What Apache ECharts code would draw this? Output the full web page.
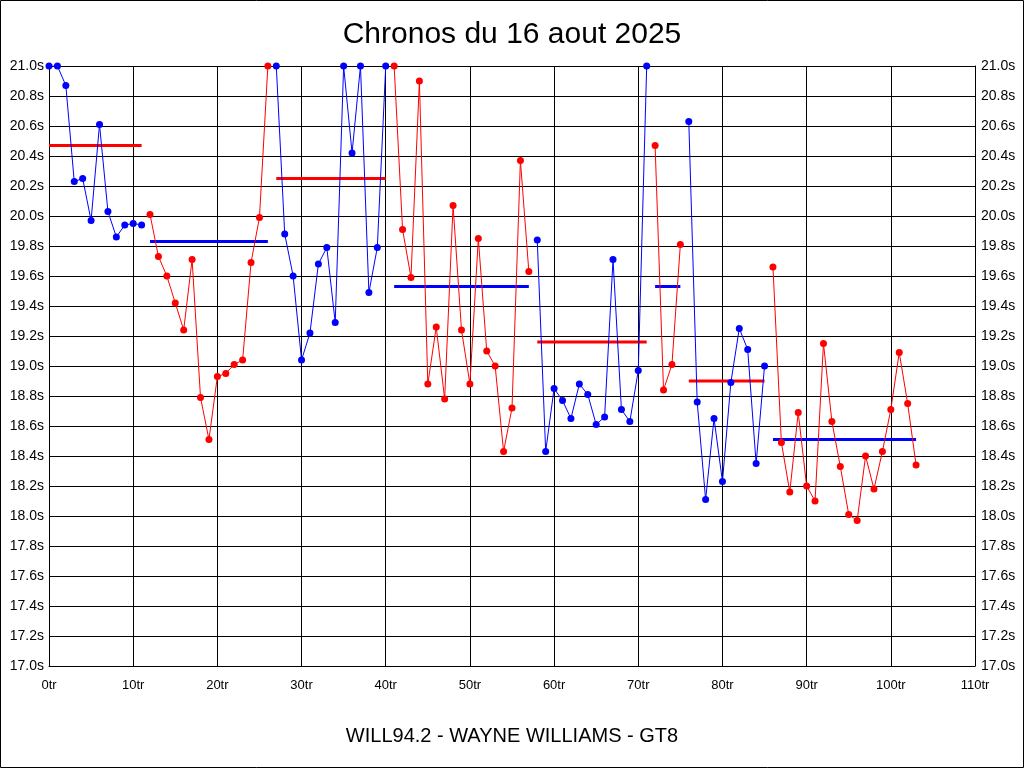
<!DOCTYPE html>
<html>
<head>
<meta charset="utf-8">
<script src="https://cdn.jsdelivr.net/npm/echarts@6/dist/echarts.min.js"></script>
<style>
html,body{margin:0;padding:0;background:#fff;}
#chart{width:1024px;height:768px;}
</style>
</head>
<body>
<div id="chart"></div>
<script>
// Lap times (seconds), lap 0..103 ; values at 21.0 are clipped at the top of the chart
var lapTimes = [
  21.0, 21.0, 20.87, 20.23, 20.25, 19.97, 20.61, 20.03, 19.86, 19.94, 19.95, 19.94,
  20.01, 19.73, 19.60, 19.42, 19.24, 19.71, 18.79, 18.51, 18.93, 18.95, 19.01, 19.04, 19.69, 19.99, 21.0,
  21.0, 19.88, 19.60, 19.04, 19.22, 19.68, 19.79, 19.29, 21.0, 20.42, 21.0, 19.49, 19.79, 21.0,
  21.0, 19.91, 19.59, 20.90, 18.88, 19.26, 18.78, 20.07, 19.24, 18.88, 19.85, 19.10, 19.00, 18.43, 18.72, 20.37, 19.63,
  19.84, 18.43, 18.85, 18.77, 18.65, 18.88, 18.81, 18.61, 18.66, 19.71, 18.71, 18.63, 18.97, 21.0,
  20.47, 18.84, 19.01, 19.81,
  20.63, 18.76, 18.11, 18.65, 18.23, 18.89, 19.25, 19.11, 18.35, 19.00,
  19.66, 18.49, 18.16, 18.69, 18.20, 18.10, 19.15, 18.63, 18.33, 18.01, 17.97, 18.40, 18.18, 18.43, 18.71, 19.09, 18.75, 18.34
];
// First lap of each stint (last entry = end)
var stintStarts = [0, 12, 27, 41, 58, 72, 76, 86, 104];
// Average line of each stint (seconds)
var stintAverages = [20.47, 19.83, 20.25, 19.53, 19.16, 19.53, 18.90, 18.51];
// Axis tick settings
var xTicks = [0, 110, 10];
var yTicks = [17.0, 21.0, 0.2];
var titleText = 'Chronos du 16 aout 2025';
var subtitleText = 'WILL94.2 - WAYNE WILLIAMS - GT8';

var BLUE = '#0000ff', RED = '#ff0000';
var FONT = '"Liberation Sans", Arial, sans-serif';

var series = [];
for (var s = 0; s < stintStarts.length - 1; s++) {
  var a = stintStarts[s], b = stintStarts[s + 1];
  var col = (s % 2 === 0) ? BLUE : RED;
  var avgCol = (s % 2 === 0) ? RED : BLUE;
  var pts = [];
  for (var i = a; i < b; i++) pts.push([i, lapTimes[i]]);
  series.push({
    type: 'line', data: [[a, stintAverages[s]], [b - 1, stintAverages[s]]],
    showSymbol: false, symbol: 'none', lineStyle: {color: avgCol, width: 3},
    itemStyle: {color: avgCol}, z: 2, silent: true
  });
  series.push({
    type: 'line', data: pts, symbol: 'circle', symbolSize: 7, showSymbol: true,
    lineStyle: {color: col, width: 1}, itemStyle: {color: col, borderWidth: 0},
    z: 3, silent: true
  });
}

var yAxisBase = {
  type: 'value', min: yTicks[0], max: yTicks[1], interval: yTicks[2],
  axisLine: {show: true, lineStyle: {color: '#000', width: 1}},
  axisTick: {show: false},
  axisLabel: {color: '#000', fontSize: 14, fontFamily: FONT, margin: 5,
    formatter: function (v) { return v.toFixed(1) + 's'; }},
  splitLine: {show: true, lineStyle: {color: '#000', width: 1}}
};

var chart = echarts.init(document.getElementById('chart'), null, {renderer: 'canvas'});
chart.setOption({
  animation: false,
  backgroundColor: '#fff',
  title: [
    {text: titleText, left: 'center', top: 15,
     textStyle: {fontSize: 30, fontWeight: 'normal', color: '#000', fontFamily: FONT}},
    {text: subtitleText, left: 'center', top: 721,
     textStyle: {fontSize: 20, fontWeight: 'normal', color: '#000', fontFamily: FONT}}
  ],
  grid: {left: 49, right: 49, top: 66, bottom: 102, containLabel: false},
  xAxis: {
    type: 'value', min: xTicks[0], max: xTicks[1], interval: xTicks[2],
    axisLine: {show: true, onZero: false, lineStyle: {color: '#000', width: 1}},
    axisTick: {show: false},
    axisLabel: {color: '#000', fontSize: 13, fontFamily: FONT, margin: 13,
      formatter: function (v) { return v + 'tr'; }},
    splitLine: {show: true, lineStyle: {color: '#000', width: 1}}
  },
  yAxis: [
    Object.assign({}, yAxisBase, {position: 'left'}),
    Object.assign({}, yAxisBase, {position: 'right', splitLine: {show: false},
      axisLabel: Object.assign({}, yAxisBase.axisLabel, {margin: 6})})
  ],
  graphic: [{
    type: 'rect', shape: {x: 0.5, y: 0.5, width: 1023, height: 767},
    style: {fill: null, stroke: '#000', lineWidth: 1}, silent: true, z: 100
  }],
  series: series
});
</script>
</body>
</html>
